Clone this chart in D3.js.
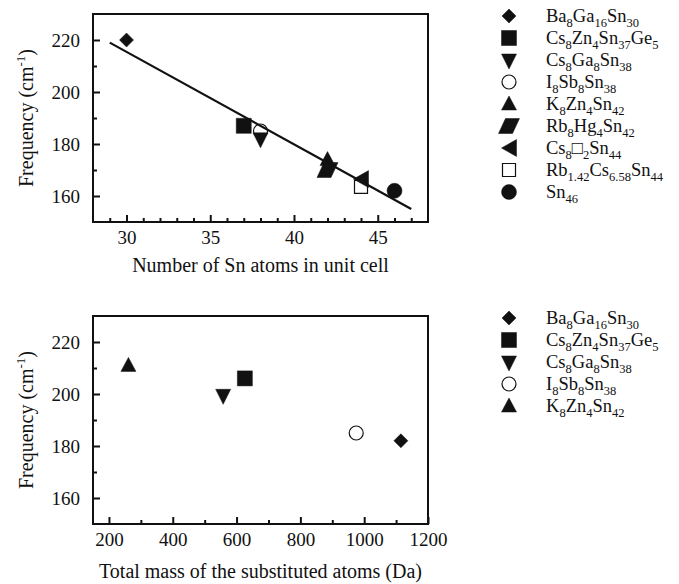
<!DOCTYPE html>
<html>
<head>
<meta charset="utf-8">
<script src="https://cdn.jsdelivr.net/npm/d3@7"></script>
<style>
  body { margin: 0; background: #fff; }
  svg { display: block; font-family: "Liberation Serif", "Times New Roman", serif; }
</style>
</head>
<body>
<div id="chart"></div>
<script>
// top panel: number of Sn atoms vs frequency
const compoundsTop = [
  "Ba{8}Ga{16}Sn{30}", "Cs{8}Zn{4}Sn{37}Ge{5}", "Cs{8}Ga{8}Sn{38}", "I{8}Sb{8}Sn{38}",
  "K{8}Zn{4}Sn{42}", "Rb{8}Hg{4}Sn{42}", "Cs{8}\u25A1{2}Sn{44}", "Rb{1.42}Cs{6.58}Sn{44}", "Sn{46}"
]
const markersTop = ["diamond", "square", "triDown", "circleOpen", "triUp", "parallelogram", "triLeft", "squareOpen", "circle"]
const snAtoms = [30, 37, 38, 38, 42, 42, 44, 44, 46]
const freqTop = [220, 187, 182, 185, 174, 170, 166.5, 163.5, 162]
const fitSn = [29, 47]
const fitFreq = [219, 155]

// bottom panel: total mass of substituted atoms vs frequency
const compoundsBottom = compoundsTop.slice(0, 5)
const markersBottom = markersTop.slice(0, 5)
const massSub = [1115, 626, 558, 975, 261]
const freqBottom = [182, 206, 199.5, 185, 211]

const freqTicks = [160, 180, 200, 220]
const freqMinor = [170, 190, 210]
const snTicks = [30, 35, 40, 45]
const snMinor = d3.range(29, 48).filter(v => v % 5 !== 0)
const massTicks = [200, 400, 600, 800, 1000, 1200]
const massMinor = [300, 500, 700, 900, 1100]

const W = 679, H = 584
const ink = "#111"

const svg = d3.select("#chart").append("svg")
  .attr("width", W)
  .attr("height", H)

function markerPath(type) {
  switch (type) {
    case "diamond": return "M0,-7L7,0L0,7L-7,0Z"
    case "square": return "M-7.5,-7.5H7.5V7.5H-7.5Z"
    case "squareOpen": return "M-6.5,-6.5H6.5V6.5H-6.5Z"
    case "triDown": return "M-7.5,-6H7.5L0,9Z"
    case "triUp": return "M-7.5,6H7.5L0,-8Z"
    case "triLeft": return "M-7.5,0L7.5,-8.5V8.5Z"
    case "parallelogram": return "M-10.5,7.5L-3.5,-7.5H10.5L3.5,7.5Z"
    case "circle": return "M7.5,0A7.5,7.5 0 1,1 -7.5,0A7.5,7.5 0 1,1 7.5,0Z"
    case "circleOpen": return "M7,0A7,7 0 1,1 -7,0A7,7 0 1,1 7,0Z"
  }
}
const isOpen = t => t === "circleOpen" || t === "squareOpen"

function styleMarker(sel) {
  sel.attr("d", d => markerPath(d.marker))
    .attr("fill", d => isOpen(d.marker) ? "#fff" : ink)
    .attr("stroke", ink)
    .attr("stroke-width", d => isOpen(d.marker) ? 1.2 : 0.5)
}

function drawPanel(cfg) {
  const g = svg.append("g")
  const x = d3.scaleLinear().domain(cfg.xDomain).range([93, 428])
  const y = d3.scaleLinear().domain([150, 230]).range([cfg.top + 208, cfg.top])
  const bottom = cfg.top + 208

  // minor ticks
  g.append("g")
    .attr("transform", `translate(0,${bottom})`)
    .call(d3.axisBottom(x).tickValues(cfg.xMinor).tickSize(-4).tickFormat(""))
  g.append("g")
    .attr("transform", "translate(93,0)")
    .call(d3.axisLeft(y).tickValues(freqMinor).tickSize(-4).tickFormat(""))

  // major ticks
  g.append("g")
    .attr("transform", `translate(0,${bottom})`)
    .call(d3.axisBottom(x).tickValues(cfg.xTicks).tickSize(-7).tickPadding(9).tickFormat(d3.format("d")))
  g.append("g")
    .attr("transform", "translate(93,0)")
    .call(d3.axisLeft(y).tickValues(freqTicks).tickSize(-7).tickPadding(13).tickFormat(d3.format("d")))

  g.selectAll(".domain").remove()
  g.selectAll(".tick line").attr("stroke", ink).attr("stroke-width", 2)
  g.selectAll(".tick text").attr("fill", ink).attr("font-size", 19)
    .attr("font-family", '"Liberation Serif", serif')

  // frame
  g.append("rect")
    .attr("x", 93).attr("y", cfg.top)
    .attr("width", 335).attr("height", 208)
    .attr("fill", "none")
    .attr("stroke", ink)
    .attr("stroke-width", 2)

  const pts = cfg.xs.map((v, i) => ({ x: v, y: cfg.ys[i], marker: cfg.markers[i] }))
  // open markers underneath, filled ones on top
  pts.sort((a, b) => (isOpen(b.marker) ? 1 : 0) - (isOpen(a.marker) ? 1 : 0))
  g.selectAll(".pt").data(pts).join("path")
    .attr("class", "pt")
    .attr("transform", d => `translate(${x(d.x)},${y(d.y)})`)
    .call(styleMarker)

  if (cfg.fit) {
    g.append("path")
      .datum(cfg.fit[0].map((v, i) => [v, cfg.fit[1][i]]))
      .attr("d", d3.line().x(d => x(d[0])).y(d => y(d[1])))
      .attr("stroke", ink)
      .attr("stroke-width", 2.2)
      .attr("fill", "none")
  }

  // axis titles
  const yt = g.append("text")
    .attr("transform", `translate(33,${cfg.top + 104}) rotate(-90)`)
    .attr("text-anchor", "middle")
    .attr("font-size", 20)
    .attr("fill", ink)
  yt.append("tspan").text("Frequency (cm")
  yt.append("tspan").attr("font-size", 13).attr("dy", -8).text("-1")
  yt.append("tspan").attr("dy", 8).text(")")

  g.append("text")
    .attr("x", 260.5)
    .attr("y", bottom + cfg.titleGap)
    .attr("text-anchor", "middle")
    .attr("font-size", 20)
    .attr("fill", ink)
    .text(cfg.xTitle)

  // legend
  const leg = g.append("g")
  cfg.names.forEach((name, i) => {
    const ly = cfg.top + 2 + i * 22
    leg.append("path")
      .datum({ marker: cfg.markers[i] })
      .attr("transform", `translate(509,${ly})`)
      .call(styleMarker)
    const t = leg.append("text")
      .attr("x", 546)
      .attr("y", ly + 6)
      .attr("font-size", 18.5)
      .attr("fill", ink)
    const parts = name.split(/(\{[^}]*\})/).filter(s => s.length)
    let shifted = false
    parts.forEach(p => {
      if (p.startsWith("{")) {
        t.append("tspan").attr("font-size", 12.5).attr("dy", 4.5).text(p.slice(1, -1))
        shifted = true
      } else {
        t.append("tspan").attr("dy", shifted ? -4.5 : 0).text(p)
        shifted = false
      }
    })
  })
}

drawPanel({
  top: 14,
  xDomain: [28, 48],
  xTicks: snTicks,
  xMinor: snMinor,
  xs: snAtoms,
  ys: freqTop,
  markers: markersTop,
  names: compoundsTop,
  fit: [fitSn, fitFreq],
  xTitle: "Number of Sn atoms in unit cell",
  titleGap: 50
})

drawPanel({
  top: 316,
  xDomain: [150, 1200],
  xTicks: massTicks,
  xMinor: massMinor,
  xs: massSub,
  ys: freqBottom,
  markers: markersBottom,
  names: compoundsBottom,
  fit: null,
  xTitle: "Total mass of the substituted atoms (Da)",
  titleGap: 54
})
</script>
</body>
</html>
